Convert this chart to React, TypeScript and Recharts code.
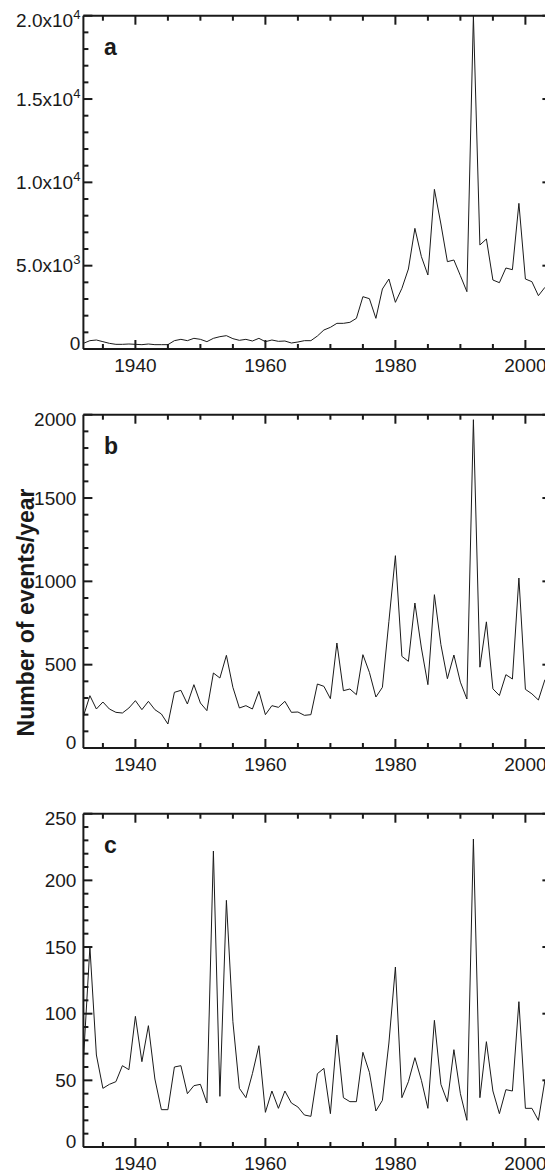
import React from 'react';
import { LineChart, Line, XAxis, YAxis } from 'recharts';

const YEARS = [
  1932, 1933, 1934, 1935, 1936, 1937, 1938, 1939, 1940, 1941, 1942, 1943,
  1944, 1945, 1946, 1947, 1948, 1949, 1950, 1951, 1952, 1953, 1954, 1955,
  1956, 1957, 1958, 1959, 1960, 1961, 1962, 1963, 1964, 1965, 1966, 1967,
  1968, 1969, 1970, 1971, 1972, 1973, 1974, 1975, 1976, 1977, 1978, 1979,
  1980, 1981, 1982, 1983, 1984, 1985, 1986, 1987, 1988, 1989, 1990, 1991,
  1992, 1993, 1994, 1995, 1996, 1997, 1998, 1999, 2000, 2001, 2002, 2003,
];

// panel a
const EVENTS_A = [
  340, 500, 540, 440, 340, 280, 280, 300, 280, 260, 300, 260,
  260, 260, 500, 580, 500, 640, 580, 440, 640, 740, 800, 620,
  520, 580, 480, 640, 440, 540, 460, 480, 360, 420, 500, 500,
  780, 1140, 1300, 1540, 1540, 1600, 1840, 3140, 3020, 1840, 3600, 4200,
  2800, 3640, 4800, 7240, 5540, 4440, 9580, 7500, 5240, 5340, 4400, 3440,
  20000, 6240, 6600, 4140, 3980, 4860, 4760, 8740, 4200, 4040, 3200, 3700,
];

// panel b
const EVENTS_B = [
  190, 314, 234, 276, 234, 214, 210, 240, 284, 230, 280, 230,
  204, 144, 334, 346, 264, 380, 270, 224, 450, 420, 556, 364,
  240, 254, 234, 340, 200, 254, 244, 280, 214, 216, 196, 200,
  384, 370, 296, 630, 344, 354, 320, 560, 454, 306, 364, 760,
  1154, 550, 520, 870, 600, 380, 920, 620, 416, 558, 395, 294,
  1970, 485, 757, 355, 315, 440, 414, 1020, 352, 325, 288, 410,
];

// panel c
const EVENTS_C = [
  65, 150, 69, 44, 47, 49, 61, 58, 98, 64, 91, 51,
  28, 28, 60, 61, 40, 46, 47, 33, 222, 38, 185, 94,
  44, 37, 55, 76, 26, 42, 29, 42, 33, 30, 24, 23,
  55, 59, 25, 84, 37, 34, 34, 71, 56, 27, 35, 78,
  135, 37, 49, 67, 50, 29, 95, 47, 34, 73, 40, 20,
  231, 37, 79, 42, 25, 43, 42, 109, 29, 29, 20, 50,
];

const X_DOMAIN = [1932, 2004];
const X_TICKS = [1935, 1940, 1945, 1950, 1955, 1960, 1965, 1970, 1975, 1980, 1985, 1990, 1995, 2000];
const X_LABELS = [1940, 1960, 1980, 2000];

const A_TICKS = [0, 1000, 2000, 3000, 4000, 5000, 6000, 7000, 8000, 9000, 10000, 11000, 12000, 13000, 14000, 15000, 16000, 17000, 18000, 19000, 20000];
const A_LABEL_VALUES = [0, 5000, 10000, 15000, 20000];
const A_LABEL_TEXT = ['0', '5.0x10', '1.0x10', '1.5x10', '2.0x10'];
const A_LABEL_EXP = ['', '3', '4', '4', '4'];

const B_TICKS = [0, 100, 200, 300, 400, 500, 600, 700, 800, 900, 1000, 1100, 1200, 1300, 1400, 1500, 1600, 1700, 1800, 1900, 2000];
const B_LABEL_VALUES = [0, 500, 1000, 1500, 2000];
const B_LABEL_TEXT = ['0', '500', '1000', '1500', '2000'];

const C_TICKS = [0, 10, 20, 30, 40, 50, 60, 70, 80, 90, 100, 110, 120, 130, 140, 150, 160, 170, 180, 190, 200, 210, 220, 230, 240, 250];
const C_LABEL_VALUES = [0, 50, 100, 150, 200, 250];
const C_LABEL_TEXT = ['0', '50', '100', '150', '200', '250'];

const Y_TITLE = 'Number of events/year';
const PANEL_LETTERS = ['a', 'b', 'c'];

const INK = '#1a1a1a';
const FONT = '"Liberation Sans", Arial, Helvetica, sans-serif';
const TICK_FONT = 19;

const PLOT_LEFT = 83.4;
const PLOT_W = 468;
const PLOT_TOP = 15.7;
const PLOT_H = 333.3;
const X_AXIS_H = 40;
const CHART_W = 560;
const CHART_H = PLOT_TOP + PLOT_H + X_AXIS_H;
const PANEL_TOPS = [0, 399.3, 798.3];

const MINOR = 5;
const MAJOR = 9;
const TW = 2;

const makeRows = (vals: number[]) => YEARS.map((y, i) => ({ year: y, v: vals[i] }));

const BottomTick = (p: any) => {
  const { x, y, payload } = p;
  const major = X_LABELS.includes(payload.value);
  const len = major ? MAJOR : MINOR;
  return (
    <g>
      <rect x={x - TW / 2} y={y - len} width={TW} height={len} fill={INK} />
      {major && (
        <text x={x} y={y + 23} textAnchor="middle" fontSize={TICK_FONT} fill={INK} fontFamily={FONT}>
          {payload.value}
        </text>
      )}
    </g>
  );
};

const TopTick = (p: any) => {
  const { x, y, payload } = p;
  const len = X_LABELS.includes(payload.value) ? MAJOR : MINOR;
  return <rect x={x - TW / 2} y={y} width={TW} height={len} fill={INK} />;
};

const makeLeftTick = (labelValues: number[], labelText: string[], labelExp: string[] | null, maxV: number, gap: number) => (p: any) => {
  const { x, y, payload } = p;
  const idx = labelValues.indexOf(payload.value);
  const major = idx >= 0;
  const len = major ? MAJOR : MINOR;
  let dy = 6.5;
  if (payload.value === maxV) dy = 11.5;
  if (payload.value === 0) dy = 0.5;
  return (
    <g>
      <rect x={x} y={y - TW / 2} width={len} height={TW} fill={INK} />
      {major && (
        <text x={x - gap} y={y + dy} textAnchor="end" fontSize={TICK_FONT} fill={INK} fontFamily={FONT}>
          {labelText[idx]}
          {labelExp && labelExp[idx] ? (
            <tspan dy={-8} fontSize={13}>{labelExp[idx]}</tspan>
          ) : null}
        </text>
      )}
    </g>
  );
};

const makeRightTick = (labelValues: number[]) => (p: any) => {
  const { x, y, payload } = p;
  const len = labelValues.includes(payload.value) ? MAJOR : MINOR;
  return <rect x={x - len} y={y - TW / 2} width={len} height={TW} fill={INK} />;
};

type PanelProps = {
  vals: number[];
  maxV: number;
  ticks: number[];
  labelValues: number[];
  labelText: string[];
  labelExp: string[] | null;
  gap: number;
};

const Panel = ({ vals, maxV, ticks, labelValues, labelText, labelExp, gap }: PanelProps) => {
  const rows = makeRows(vals);
  const axisLine = { stroke: INK, strokeWidth: 2 };
  return (
    <LineChart
      width={CHART_W}
      height={CHART_H}
      data={rows}
      margin={{ top: PLOT_TOP - 1, right: CHART_W - PLOT_LEFT - PLOT_W - 1, bottom: 0, left: 0 }}
    >
      <XAxis
        xAxisId="bottom"
        dataKey="year"
        type="number"
        domain={X_DOMAIN}
        allowDataOverflow
        ticks={X_TICKS}
        interval={0}
        tickLine={false}
        tickSize={0}
        tickMargin={0}
        axisLine={axisLine}
        height={X_AXIS_H}
        tick={(p: any) => <BottomTick {...p} />}
      />
      <XAxis
        xAxisId="top"
        orientation="top"
        dataKey="year"
        type="number"
        domain={X_DOMAIN}
        allowDataOverflow
        ticks={X_TICKS}
        interval={0}
        tickLine={false}
        tickSize={0}
        tickMargin={0}
        axisLine={axisLine}
        height={1}
        tick={(p: any) => <TopTick {...p} />}
      />
      <YAxis
        yAxisId="left"
        type="number"
        domain={[0, maxV]}
        allowDataOverflow
        ticks={ticks}
        interval={0}
        tickLine={false}
        tickSize={0}
        tickMargin={0}
        axisLine={axisLine}
        width={PLOT_LEFT}
        tick={makeLeftTick(labelValues, labelText, labelExp, maxV, gap)}
      />
      <YAxis
        yAxisId="right"
        orientation="right"
        type="number"
        domain={[0, maxV]}
        allowDataOverflow
        ticks={ticks}
        interval={0}
        tickLine={false}
        tickSize={0}
        tickMargin={0}
        axisLine={axisLine}
        width={1}
        tick={makeRightTick(labelValues)}
      />
      <Line
        xAxisId="bottom"
        yAxisId="left"
        type="linear"
        dataKey="v"
        stroke={INK}
        strokeWidth={1}
        dot={false}
        isAnimationActive={false}
      />
    </LineChart>
  );
};

export default function App() {
  const panels: PanelProps[] = [
    { vals: EVENTS_A, maxV: 20000, ticks: A_TICKS, labelValues: A_LABEL_VALUES, labelText: A_LABEL_TEXT, labelExp: A_LABEL_EXP, gap: 3 },
    { vals: EVENTS_B, maxV: 2000, ticks: B_TICKS, labelValues: B_LABEL_VALUES, labelText: B_LABEL_TEXT, labelExp: null, gap: 7 },
    { vals: EVENTS_C, maxV: 250, ticks: C_TICKS, labelValues: C_LABEL_VALUES, labelText: C_LABEL_TEXT, labelExp: null, gap: 7 },
  ];
  return (
    <div style={{ position: 'absolute', left: 0, top: 0, width: 545, height: 1174, overflow: 'hidden', background: '#fff' }}>
      {panels.map((pp, i) => (
        <div key={i} style={{ position: 'absolute', left: 0, top: PANEL_TOPS[i] }}>
          <Panel {...pp} />
        </div>
      ))}
      <svg width={545} height={1174} style={{ position: 'absolute', left: 0, top: 0, pointerEvents: 'none' }}>
        {PANEL_LETTERS.map((l, i) => (
          <text key={l} x={104} y={PANEL_TOPS[i] + PLOT_TOP + 39} fontSize={23} fontWeight="bold" fill={INK} fontFamily={FONT}>
            {l}
          </text>
        ))}
        <text
          x={0}
          y={0}
          transform="translate(33.5, 612.5) rotate(-90)"
          textAnchor="middle"
          fontSize={23}
          fontWeight="bold"
          fill={INK}
          fontFamily={FONT}
        >
          {Y_TITLE}
        </text>
      </svg>
    </div>
  );
}
